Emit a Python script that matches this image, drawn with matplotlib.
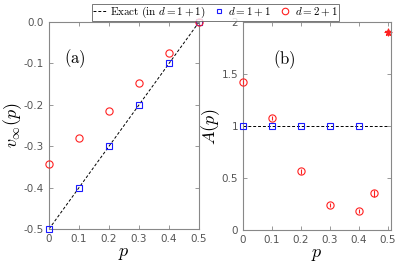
#!/usr/bin/env python3
import matplotlib
matplotlib.use("Agg")
import matplotlib.pyplot as plt
import numpy as np

# panel (a): velocity
p_a = [0.0, 0.1, 0.2, 0.3, 0.4, 0.5]
v_d11 = [-0.5, -0.4, -0.3, -0.2, -0.1, 0.0]
v_d21 = [-0.342, -0.281, -0.216, -0.147, -0.074, 0.0]

# panel (b): amplitude
p_b11 = [0.0, 0.1, 0.2, 0.3, 0.4]
A_d11 = [1.0, 1.0, 1.0, 1.0, 1.0]
p_b21 = [0.0, 0.1, 0.2, 0.3, 0.4, 0.45]
A_d21 = [1.423, 1.08, 0.564, 0.242, 0.187, 0.353]
A_err = [0.02, 0.02, 0.02, 0.02, 0.02, 0.035]
p_star = [0.5]
A_star = [1.904]

plt.rcParams['mathtext.fontset'] = 'cm'
plt.rcParams['font.family'] = 'DejaVu Sans'

GRAY = '#555555'
RED = '#ff2020'
BLUE = '#1a1aff'


def style_axes(ax):
    for s in ax.spines.values():
        s.set_color('#888888')
        s.set_linewidth(0.8)
    ax.tick_params(direction='in', top=True, right=True, colors='#888888',
                   labelcolor=GRAY, labelsize=7.5, length=3, width=0.6)


fig = plt.figure(figsize=(3.99, 2.66), dpi=100)
ax1 = fig.add_axes([0.1228, 0.139, 0.376, 0.778])
ax2 = fig.add_axes([0.609, 0.135, 0.371, 0.782])

# (a)
exact, = ax1.plot([0, 0.5], [-0.5, 0.0], '--', color='k', lw=0.7,
                  dashes=(3, 2))
sq, = ax1.plot(p_a, v_d11, 's', mfc='none', mec=BLUE, ms=3.8, mew=0.8,
               clip_on=False, zorder=5)
ci, = ax1.plot(p_a, v_d21, 'o', mfc='none', mec=RED, ms=5.2, mew=0.8,
               clip_on=False, zorder=5)
ax1.set_xlim(0, 0.5)
ax1.set_ylim(-0.5, 0.0)
ax1.set_xticks(np.arange(0, 0.51, 0.1))
ax1.set_xticklabels(['0', '0.1', '0.2', '0.3', '0.4', '0.5'])
ax1.set_yticks(np.arange(-0.5, 0.01, 0.1))
ax1.set_yticklabels(['-0.5', '-0.4', '-0.3', '-0.2', '-0.1', '0.0'])
ax1.set_xlabel(r'$p$', fontsize=13, labelpad=0)
ax1.set_ylabel(r'$v_\infty(p)$', fontsize=13, labelpad=0)
ax1.text(0.1, 0.8, r'$\mathrm{(a)}$', transform=ax1.transAxes, fontsize=12)
style_axes(ax1)

# (b)
ax2.plot([0, 0.5], [1, 1], '--', color='k', lw=0.7, dashes=(3, 2))
ax2.plot(p_b11, A_d11, 's', mfc='none', mec=BLUE, ms=3.8, mew=0.8,
         clip_on=False, zorder=5)
ax2.errorbar(p_b21, A_d21, yerr=A_err, fmt='o', mfc='none', mec=RED,
             ecolor=RED, ms=5.2, mew=0.8, elinewidth=0.8, capsize=0,
             clip_on=False, zorder=5)
ax2.plot(p_star, A_star, '*', color=RED, ms=5, clip_on=False)
ax2.plot(p_star, A_star, '+', color=RED, ms=6, mew=0.8, clip_on=False)
ax2.set_xlim(0, 0.51)
ax2.set_ylim(0, 2)
ax2.set_xticks(np.arange(0, 0.51, 0.1))
ax2.set_xticklabels(['0', '0.1', '0.2', '0.3', '0.4', '0.5'])
ax2.set_yticks([0, 0.5, 1, 1.5, 2])
ax2.set_yticklabels(['0', '0.5', '1', '1.5', '2'])
ax2.set_xlabel(r'$p$', fontsize=13, labelpad=0)
ax2.set_ylabel(r'$A(p)$', fontsize=13, labelpad=0)
ax2.text(0.2, 0.8, r'$\mathrm{(b)}$', transform=ax2.transAxes, fontsize=12)
style_axes(ax2)

leg = fig.legend([exact, sq, ci],
                 [r'$\mathrm{Exact\ (in\ }d=1+1\mathrm{)}$',
                  r'$d=1+1$', r'$d=2+1$'],
                 loc='upper center', bbox_to_anchor=(0.54, 0.995), ncol=3,
                 fontsize=8, frameon=True, fancybox=False,
                 handlelength=1.3, handletextpad=0.2, columnspacing=0.6,
                 borderpad=0.1, borderaxespad=0.2, markerscale=0.9)
leg.get_frame().set_edgecolor('#555555')
leg.get_frame().set_linewidth(0.7)

fig.savefig('out.png', dpi=100)
